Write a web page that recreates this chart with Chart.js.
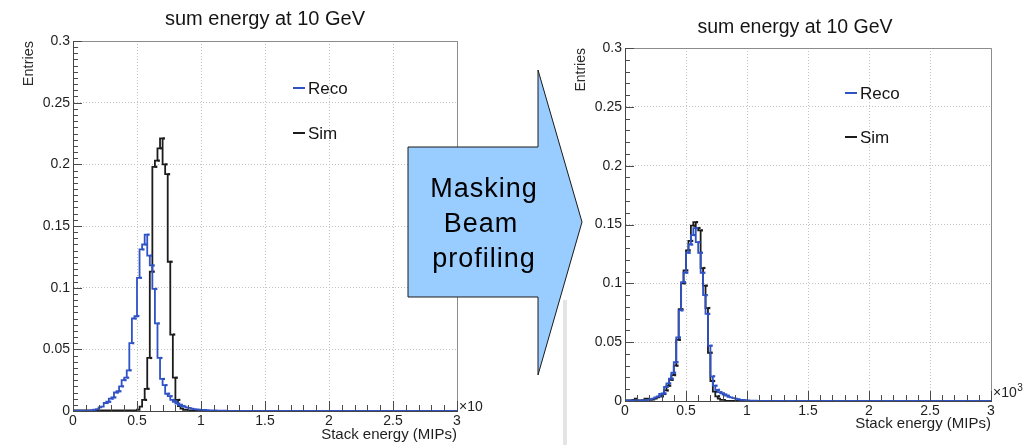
<!DOCTYPE html>
<html>
<head>
<meta charset="utf-8">
<title>sum energy at 10 GeV</title>
<script src="https://cdn.jsdelivr.net/npm/chart.js@4.4.1/dist/chart.umd.min.js"></script>
<style>
  html, body { margin: 0; padding: 0; background: #fff; }
  #wrap { position: relative; width: 1024px; height: 445px; overflow: hidden; }
  #wrap canvas, #wrap svg { position: absolute; left: 0; top: 0; }
  #strip { position: absolute; left: 563px; top: 300px; width: 4px; height: 145px; background: #e4e4e4; }
</style>
</head>
<body>
<div id="wrap">
  <div id="strip"></div>
  <canvas id="before" width="1024" height="445" style="width:1024px;height:445px"></canvas>
  <canvas id="after" width="1024" height="445" style="width:1024px;height:445px"></canvas>
  <svg width="1024" height="445" viewBox="0 0 1024 445">
    <polygon points="408,147 538,147 538,70 582,222 538,375 538,297 408,297"
             fill="#99ccff" stroke="#1a1a1a" stroke-width="1"/>
    <g font-family="'Liberation Sans', Arial, sans-serif" font-size="27" fill="#000"
       text-anchor="middle" letter-spacing="1">
      <text x="484" y="197">Masking</text>
      <text x="481" y="232">Beam</text>
      <text x="484" y="267">profiling</text>
    </g>
  </svg>
</div>
<script>
// ---- histogram binning (x in units of 10^3 MIPs) ----
const BIN_WIDTH = 0.02;
const X_TICKS = [0, 0.5, 1, 1.5, 2, 2.5, 3];
const X_TICK_LABELS = ['0', '0.5', '1', '1.5', '2', '2.5', '3'];
const Y_TICKS = [0, 0.05, 0.1, 0.15, 0.2, 0.25, 0.3];
const Y_TICK_LABELS = ['0', '0.05', '0.1', '0.15', '0.2', '0.25', '0.3'];
const SERIES_NAMES = ['Reco', 'Sim'];

// ---- before masking / beam profiling ----
const beforeRecoStart = 0.14;
const beforeReco = [
  0.0003, 0.0005, 0.001, 0.0015, 0.003, 0.0035, 0.0065, 0.0075, 0.010, 0.011,
  0.015, 0.016, 0.020, 0.025, 0.027, 0.033, 0.055, 0.075, 0.077, 0.108,
  0.131, 0.135, 0.143, 0.126, 0.118, 0.099, 0.071, 0.043, 0.026, 0.021,
  0.014, 0.012, 0.009, 0.0075, 0.006, 0.005, 0.004, 0.0035, 0.003, 0.0025,
  0.002, 0.0015, 0.0012, 0.001, 0.0009, 0.0008, 0.0006, 0.0005, 0.0005, 0.0004,
  0.0003, 0.0003, 0.0002, 0.0002
];
const beforeSimStart = 0.50;
const beforeSim = [
  0.0005, 0.001, 0.0035, 0.009, 0.018, 0.043, 0.113, 0.198, 0.203, 0.213,
  0.221, 0.200, 0.192, 0.121, 0.062, 0.027, 0.009, 0.004, 0.002, 0.001,
  0.001, 0.0005, 0.0005
];

// ---- after masking / beam profiling ----
const afterRecoStart = 0.10;
const afterReco = [
  0.0005, 0.0005, 0.0005, 0.0005, 0.0008, 0.001, 0.0015, 0.002, 0.003, 0.004,
  0.006, 0.0065, 0.012, 0.015, 0.019, 0.024, 0.033, 0.054, 0.077, 0.101,
  0.109, 0.126, 0.133, 0.141, 0.147, 0.135, 0.126, 0.109, 0.090, 0.074,
  0.047, 0.021, 0.013, 0.0095, 0.0075, 0.0065, 0.0055, 0.0045, 0.0035, 0.003,
  0.0025, 0.002, 0.0015, 0.001, 0.001, 0.0007, 0.0005, 0.0004, 0.0003, 0.0002
];
const afterSimStart = 0.06;
const afterSim = [
  0.0005, 0.001, 0.002, 0.0005, 0.0005, 0.0008, 0.002, 0.002, 0.001, 0.0012,
  0.002, 0.003, 0.004, 0.006, 0.009, 0.013, 0.018, 0.022, 0.030, 0.052,
  0.078, 0.100, 0.111, 0.128, 0.136, 0.149, 0.152, 0.147, 0.145, 0.113,
  0.098, 0.079, 0.041, 0.017, 0.008, 0.004, 0.002, 0.001, 0.001
];

const RECO_COLOR = '#2f52c6';
const SIM_COLOR = '#1c1c1c';
const FONT = '"Liberation Sans", Arial, Helvetica, sans-serif';

// Histogram outline: one point per bin low edge, drawn with stepped:'after'
function stepPoints(start, values) {
  const pts = [{ x: X_TICKS[0], y: 0 }];
  values.forEach((v, i) => pts.push({ x: start + i * BIN_WIDTH, y: v }));
  pts.push({ x: start + values.length * BIN_WIDTH, y: 0 });
  pts.push({ x: X_TICKS[X_TICKS.length - 1], y: 0 });
  return pts;
}
// Small markers at the bin centres (error-bar blobs)
function binMarkers(start, values) {
  return values
    .map((v, i) => ({ x: start + (i + 0.5) * BIN_WIDTH, y: v }))
    .filter(p => p.y >= 0.004);
}

function histDatasets(recoStart, reco, simStart, sim) {
  const line = (label, color, data) => ({
    label, data, stepped: 'after', borderColor: color, borderWidth: 1.8,
    pointRadius: 0, fill: false, legendEntry: true
  });
  const marks = (label, color, data) => ({
    label, data, showLine: false, pointStyle: 'rect', pointRadius: 1.6,
    pointBackgroundColor: color, pointBorderWidth: 0, legendEntry: false
  });
  return [
    marks(SERIES_NAMES[0], RECO_COLOR, binMarkers(recoStart, reco)),
    line(SERIES_NAMES[0], RECO_COLOR, stepPoints(recoStart, reco)),
    marks(SERIES_NAMES[1], SIM_COLOR, binMarkers(simStart, sim)),
    line(SERIES_NAMES[1], SIM_COLOR, stepPoints(simStart, sim))
  ];
}

// Frame, inward tick marks, title, legend and axis multiplier
const rootDecor = {
  id: 'rootDecor',
  afterDraw(chart, args, o) {
    const { ctx, chartArea: a, scales: { x, y } } = chart;
    ctx.save();
    // top / right frame
    ctx.strokeStyle = '#8c8c8c';
    ctx.lineWidth = 1;
    ctx.beginPath();
    ctx.moveTo(a.left, a.top + 0.5);
    ctx.lineTo(a.right + 0.5, a.top + 0.5);
    ctx.lineTo(a.right + 0.5, a.bottom);
    ctx.stroke();

    // ticks pointing into the frame
    ctx.strokeStyle = '#4a4a4a';
    ctx.beginPath();
    const nx = Math.round((x.max - x.min) / o.xMinor);
    const xMajorEvery = Math.round(0.5 / o.xMinor);
    for (let k = 0; k <= nx; k++) {
      const px = Math.round(x.getPixelForValue(x.min + k * o.xMinor)) + 0.5;
      const len = k % xMajorEvery === 0 ? 10 : 6;
      ctx.moveTo(px, a.bottom);
      ctx.lineTo(px, a.bottom - len);
    }
    const ny = Math.round((y.max - y.min) / o.yMinor);
    const yMajorEvery = Math.round(0.05 / o.yMinor);
    for (let k = 0; k <= ny; k++) {
      const py = Math.round(y.getPixelForValue(y.min + k * o.yMinor)) + 0.5;
      const len = k % yMajorEvery === 0 ? 9 : 5;
      ctx.moveTo(a.left, py);
      ctx.lineTo(a.left + len, py);
    }
    ctx.stroke();

    // title
    ctx.fillStyle = '#151515';
    ctx.font = o.titleSize + 'px ' + FONT;
    ctx.textAlign = 'center';
    ctx.textBaseline = 'alphabetic';
    ctx.fillText(o.title, o.titleX, o.titleY);

    // legend
    ctx.font = '17px ' + FONT;
    ctx.textAlign = 'left';
    ctx.textBaseline = 'middle';
    let row = 0;
    chart.data.datasets.forEach(ds => {
      if (!ds.legendEntry) return;
      const ly = o.legendY + row * o.legendStep;
      ctx.strokeStyle = ds.borderColor;
      ctx.lineWidth = 2;
      ctx.beginPath();
      ctx.moveTo(o.legendX, ly);
      ctx.lineTo(o.legendX + 12, ly);
      ctx.stroke();
      ctx.fillStyle = '#151515';
      ctx.fillText(ds.label, o.legendX + 15, ly + 1);
      row++;
    });

    // axis multiplier
    ctx.font = '14px ' + FONT;
    ctx.textBaseline = 'alphabetic';
    ctx.fillStyle = '#222';
    ctx.fillText('\u00d710', o.expX, o.expY);
    if (o.expPower) {
      const w = ctx.measureText('\u00d710').width;
      ctx.font = '10px ' + FONT;
      ctx.fillText(o.expPower, o.expX + w + 0.5, o.expY - 6);
    }
    ctx.restore();
  }
};

function makeOptions(cfg) {
  return {
    responsive: false,
    animation: false,
    events: [],
    layout: { padding: cfg.padding },
    plugins: {
      legend: { display: false },
      title: { display: false },
      tooltip: { enabled: false },
      rootDecor: cfg.decor
    },
    scales: {
      x: {
        type: 'linear',
        min: X_TICKS[0],
        max: X_TICKS[X_TICKS.length - 1],
        afterBuildTicks: s => { s.ticks = X_TICKS.map(v => ({ value: v })); },
        afterFit: s => { s.height = cfg.xHeight; },
        ticks: {
          autoSkip: false, maxRotation: 0, padding: 2,
          color: '#1e1e1e', font: { size: 14, family: FONT },
          callback: (v, i) => X_TICK_LABELS[i]
        },
        grid: { color: '#c2c2c2', lineWidth: 1, drawTicks: false },
        border: { display: true, color: '#444', width: 1, dash: [1, 2] },
        title: {
          display: true, text: 'Stack energy (MIPs)', align: 'end',
          color: '#1e1e1e', font: { size: 15, family: FONT },
          padding: { top: 0, bottom: cfg.xTitlePad }
        }
      },
      y: {
        type: 'linear',
        min: Y_TICKS[0],
        max: Y_TICKS[Y_TICKS.length - 1],
        afterBuildTicks: s => { s.ticks = Y_TICKS.map(v => ({ value: v })); },
        afterFit: s => { s.width = cfg.yWidth; },
        ticks: {
          autoSkip: false, padding: 3,
          color: '#1e1e1e', font: { size: 14, family: FONT },
          callback: (v, i) => Y_TICK_LABELS[i]
        },
        grid: { color: '#c2c2c2', lineWidth: 1, drawTicks: false },
        border: { display: true, color: '#444', width: 1, dash: [1, 2] },
        title: {
          display: true, text: 'Entries', align: 'end',
          color: '#2a2a2a', font: { size: cfg.yTitleSize, family: FONT },
          padding: { top: cfg.yTitlePad, bottom: 0 }
        }
      }
    }
  };
}

Chart.defaults.font.family = FONT;

new Chart(document.getElementById('before'), {
  type: 'line',
  data: { datasets: histDatasets(beforeRecoStart, beforeReco, beforeSimStart, beforeSim) },
  options: makeOptions({
    padding: { left: 0, top: 41, right: 567, bottom: 0 },
    yWidth: 73, xHeight: 34, xTitlePad: 1, yTitlePad: 20, yTitleSize: 14.5,
    decor: {
      title: 'sum energy at 10 GeV', titleSize: 20, titleX: 265, titleY: 25,
      legendX: 293, legendY: 88, legendStep: 45,
      xMinor: 0.1, yMinor: 0.005,
      expX: 459, expY: 411, expPower: ''
    }
  }),
  plugins: [rootDecor]
});

new Chart(document.getElementById('after'), {
  type: 'line',
  data: { datasets: histDatasets(afterRecoStart, afterReco, afterSimStart, afterSim) },
  options: makeOptions({
    padding: { left: 555, top: 48, right: 33, bottom: 0 },
    yWidth: 70, xHeight: 44, xTitlePad: 12, yTitlePad: 18, yTitleSize: 14,
    decor: {
      title: 'sum energy at 10 GeV', titleSize: 19.5, titleX: 795, titleY: 33,
      legendX: 845, legendY: 93, legendStep: 44,
      xMinor: 0.1, yMinor: 0.01,
      expX: 993, expY: 397, expPower: '3'
    }
  }),
  plugins: [rootDecor]
});
</script>
</body>
</html>
